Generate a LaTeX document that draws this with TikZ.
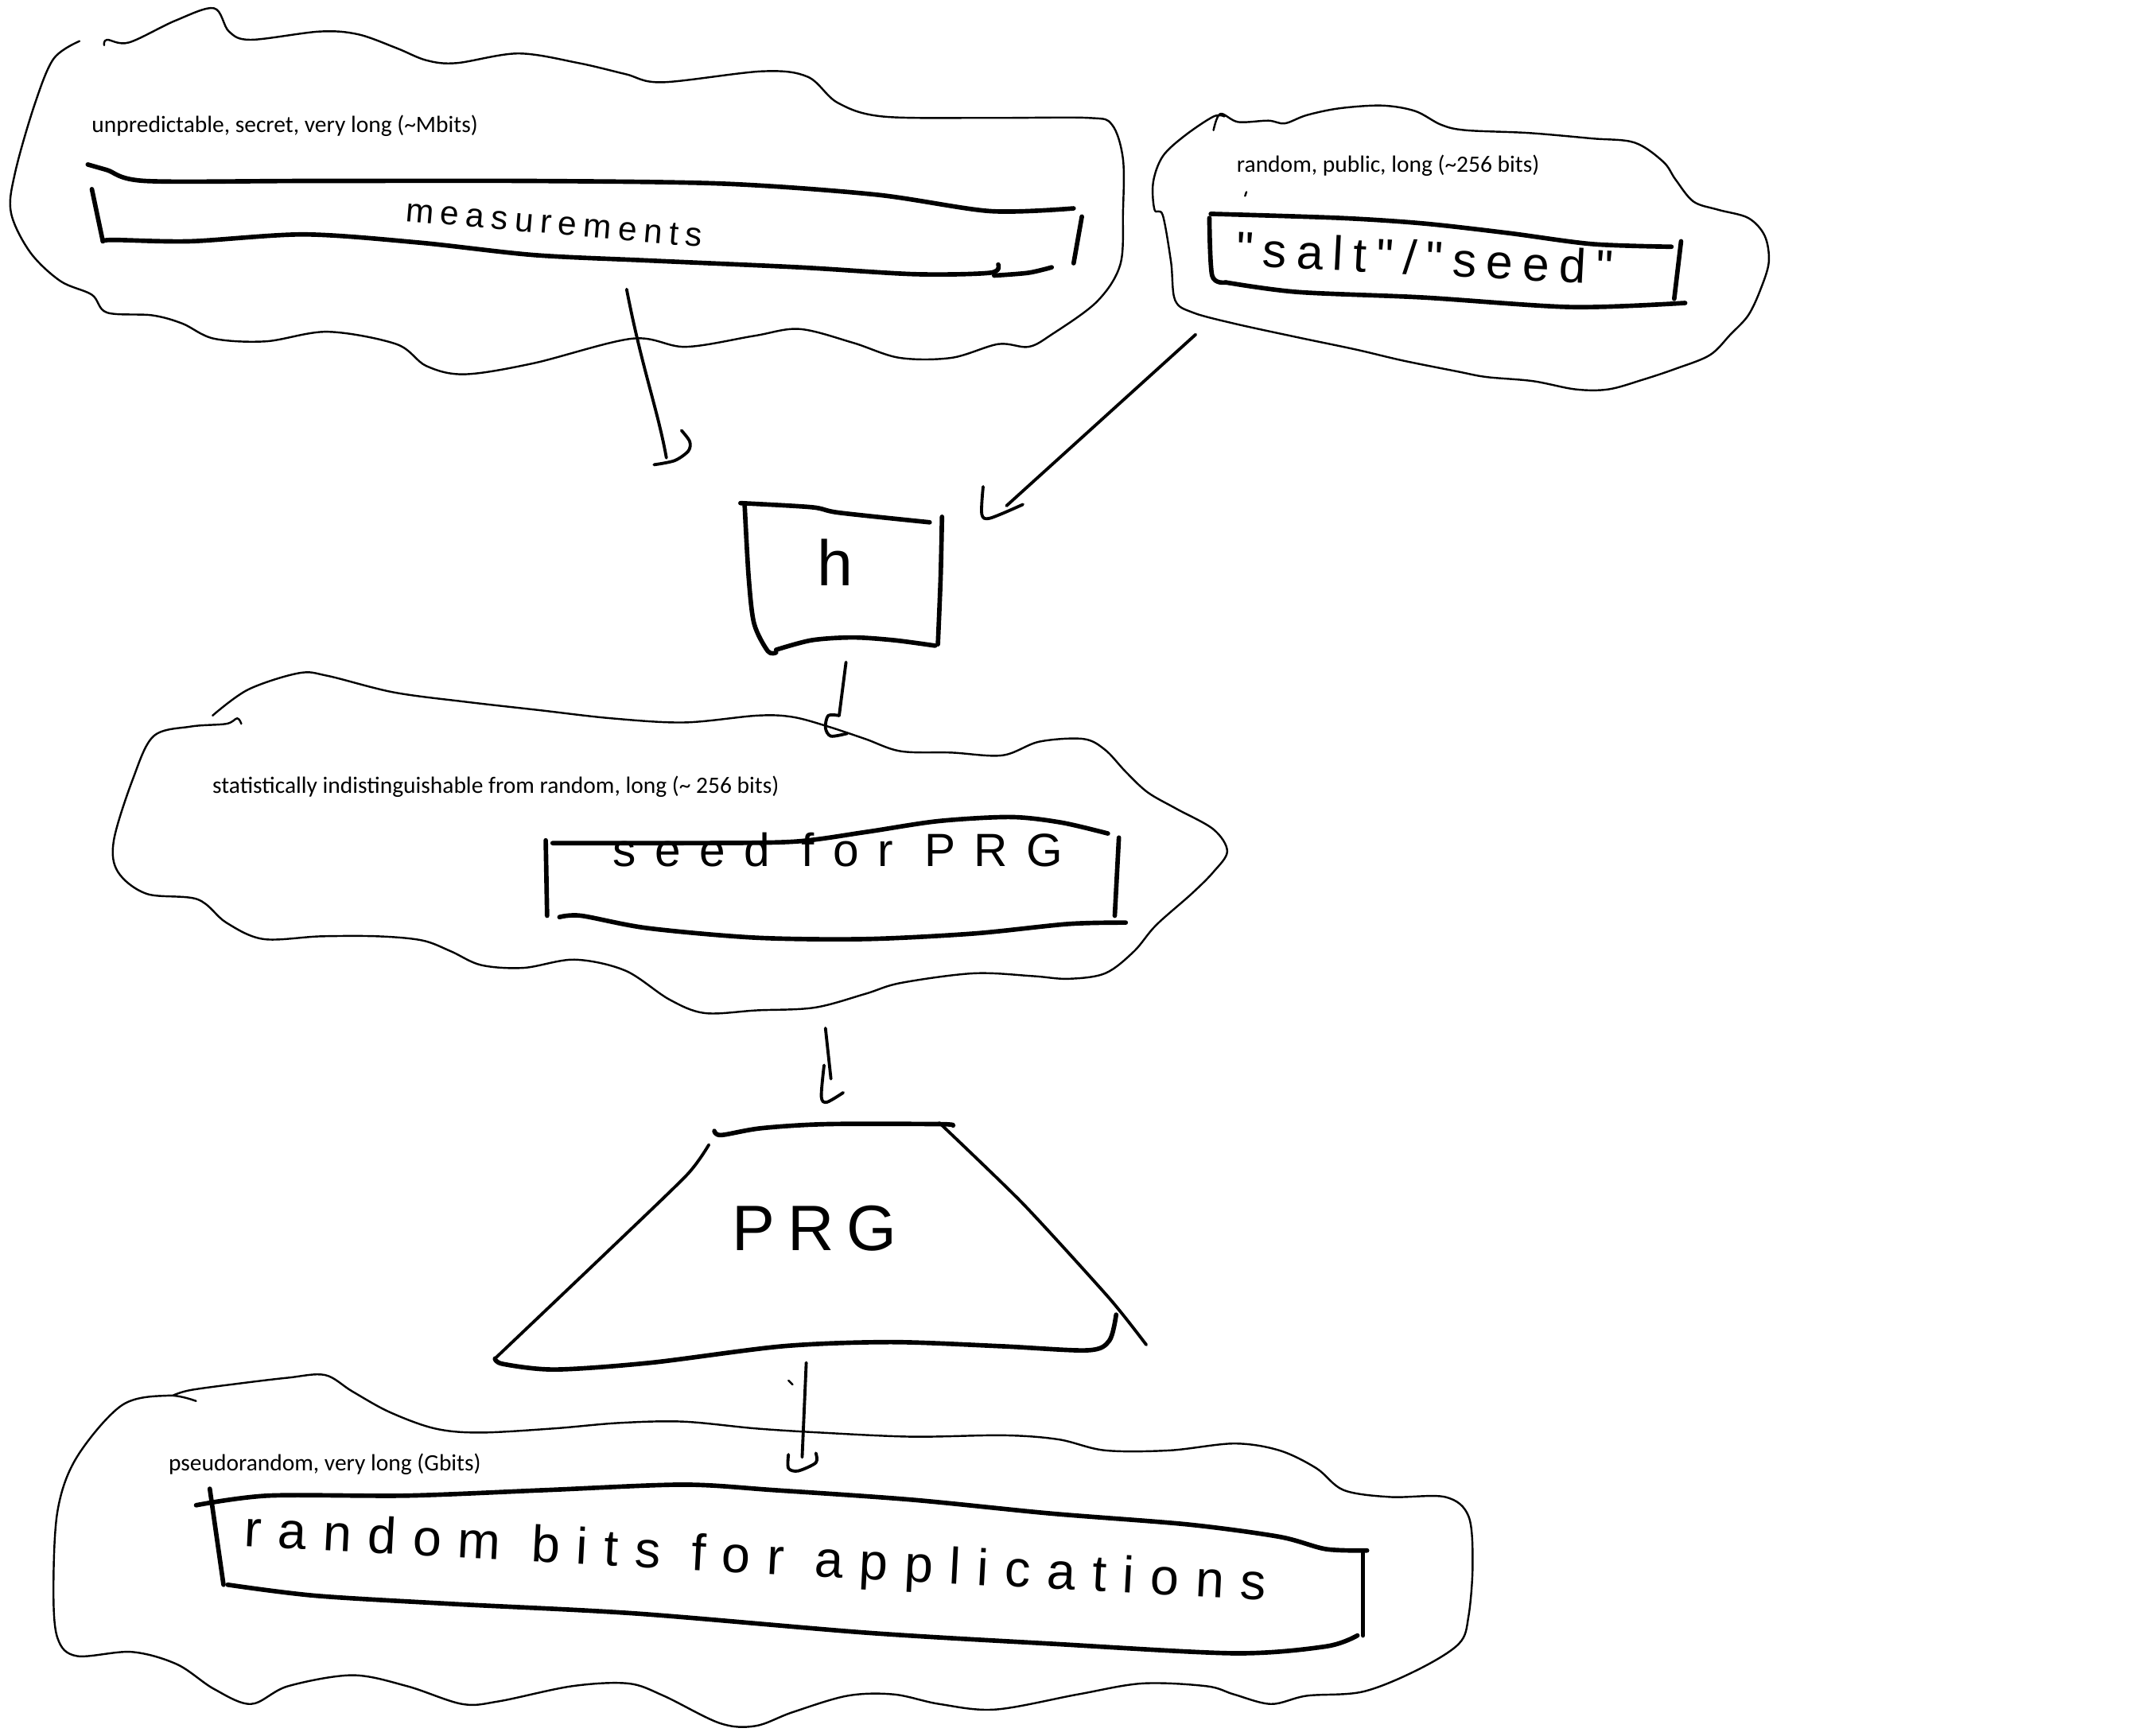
\documentclass[tikz,border=0pt]{standalone}
\usepackage{fontspec}
\setmainfont{Carlito}
\newfontfamily\handfont[LetterSpace=20]{Liberation Sans}
\begin{document}
\begin{tikzpicture}[x=0.3mm, y=-0.3mm, inner sep=0, outer sep=0,
  cloud/.style={line width=1.2pt, line join=round, line cap=round},
  strip/.style={line width=2.8pt, line join=round, line cap=round},
  arrow/.style={line width=1.9pt, line join=round, line cap=round},
  note/.style={anchor=west, font=\fontsize{14.6}{16}\selectfont},
  hand/.style={font=\handfont}]
  \useasboundingbox (0,0) rectangle (1568,1266);

  % measurements cloud
  \draw[cloud] plot[smooth, tension=0.55] coordinates {(58,30) (39,43) (25,77) (11,126) (8,155) (22,184) (44,205) (67,215) (78,228) (111,230) (133,236) (156,247) (194,249) (239,242) (289,251) (311,267) (339,273) (389,265) (461,247) (500,253) (550,245) (583,240) (622,250) (656,261) (694,261) (728,251) (750,253) (767,244) (800,220) (817,193) (819,155) (819,116) (811,91) (794,86) (722,86) (644,85) (611,75) (589,56) (556,52) (483,60) (456,54) (422,46) (378,39) (333,46) (311,44) (289,35) (261,25) (233,23) (183,29) (167,23) (156,6) (128,15) (94,31) (78,29) (76,33)};
  \node[note] (meas-note) at (67,92) {unpredictable, secret, very long (\textasciitilde Mbits)};
  \draw[strip] plot[smooth, tension=0.5] coordinates {(64,120) (78,124) (106,132) (222,132) (389,132) (528,134) (639,142) (722,154) (783,152)};
  \draw[strip] (67,138) -- (75,176);
  \draw[strip] plot[smooth, tension=0.5] coordinates {(75,176) (83,175) (139,176) (222,171) (306,177) (389,186) (472,190) (583,195) (667,200) (722,199) (728,193)};
  \draw[strip] plot[smooth] coordinates {(725,201) (750,199) (767,195)};
  \draw[strip] (789,158) -- (783,192);
  \node[hand, rotate=-5, font=\handfont\fontsize{21}{23}\selectfont] (meas) at (404,163) {measurements};

  % salt cloud
  \draw[cloud] plot[smooth, tension=0.55] coordinates {(885,95) (890,83) (903,89) (925,88) (937,90) (953,84) (977,79) (1008,77) (1032,81) (1051,91) (1069,95) (1115,97) (1161,101) (1192,104) (1213,118) (1222,131) (1235,147) (1253,153) (1275,159) (1287,172) (1290,191) (1284,211) (1275,230) (1262,244) (1247,259) (1222,269) (1198,277) (1173,284) (1149,284) (1118,278) (1084,275) (1063,271) (1023,263) (989,255) (946,246) (900,236) (870,228) (857,219) (854,191) (848,157) (842,153) (841,133) (848,114) (864,99) (885,85) (893,85)};
  \node[note] (salt-note) at (902,121) {random, public, long (\textasciitilde 256 bits)};
  \draw[cloud] (909,140) -- (908,143);
  \draw[strip] plot[smooth, tension=0.5] coordinates {(883,156) (977,159) (1038,163) (1100,170) (1161,178) (1219,180)};
  \draw[strip] plot[smooth] coordinates {(882,159) (884,201) (894,206)};
  \draw[strip] plot[smooth, tension=0.5] coordinates {(894,206) (946,213) (1038,217) (1146,224) (1229,221)};
  \draw[strip] (1226,176) -- (1221,218);
  \node[hand, rotate=-3, font=\handfont\fontsize{30}{32}\selectfont] (salt) at (1039,188) {"salt"/"seed"};

  % h box
  \draw[strip] plot[smooth, tension=0.5] coordinates {(540,367) (592,370) (612,374) (678,381)};
  \draw[strip] plot[smooth, tension=0.5] coordinates {(543,367) (546,421) (550,455) (560,475) (566,476)};
  \draw[strip] plot[smooth, tension=0.5] coordinates {(566,474) (592,467) (622,465) (652,467) (682,471)};
  \draw[strip] plot[smooth] coordinates {(687,377) (686,421) (684,470)};
  \node[hand, font=\handfont\fontsize{40}{42}\selectfont] (h) at (609,410) {h};

  % seed cloud
  \draw[cloud] plot[smooth, tension=0.55] coordinates {(155,522) (181,503) (218,491) (239,493) (287,505) (340,512) (393,518) (446,524) (499,527) (552,522) (578,523) (604,530) (631,539) (657,548) (694,549) (731,551) (758,541) (790,539) (806,547) (821,563) (837,578) (858,590) (885,605) (895,621) (885,636) (869,652) (843,675) (827,694) (806,710) (779,714) (753,712) (710,710) (657,717) (631,725) (594,735) (552,737) (514,739) (488,729) (456,708) (419,700) (382,706) (351,704) (329,694) (308,686) (276,683) (234,683) (192,685) (165,673) (144,656) (107,652) (86,636) (83,613) (97,568) (112,537) (139,530) (165,528) (173,524) (176,528)};
  \node[note] (seed-note) at (155,574) {statistically indistinguishable from random, long (\textasciitilde{} 256 bits)};
  \draw[strip] plot[smooth, tension=0.5] coordinates {(403,615) (498,615) (578,614) (631,607) (684,599) (737,596) (774,600) (808,608)};
  \draw[strip] (398,613) -- (399,668);
  \draw[strip] (816,611) -- (813,668);
  \draw[strip] plot[smooth, tension=0.5] coordinates {(408,669) (424,668) (472,677) (551,684) (631,685) (710,681) (779,674) (821,673)};
  \node[hand, font=\handfont\fontsize{29}{31}\selectfont\addfontfeature{LetterSpace=40}] (seed) at (611,620) {seed for PRG};

  % PRG
  \draw[strip] plot[smooth, tension=0.5] coordinates {(521,825) (526,828) (555,823) (603,820) (685,820) (695,821)};
  \draw[arrow] plot[smooth, tension=0.4] coordinates {(685,819) (746,878) (809,947) (836,981)};
  \draw[arrow] plot[smooth, tension=0.4] coordinates {(517,835) (501,857) (443,913) (361,991)};
  \draw[strip] plot[smooth, tension=0.5] coordinates {(361,991) (367,995) (405,999) (475,994) (571,982) (650,979) (730,982) (793,985) (809,978) (814,959)};
  \node[hand, font=\handfont\fontsize{40}{42}\selectfont] (prg) at (594,896) {PRG};

  % output cloud
  \draw[cloud] plot[smooth, tension=0.55] coordinates {(126,1018) (139,1014) (176,1009) (210,1005) (237,1003) (257,1015) (284,1030) (317,1042) (350,1045) (404,1042) (451,1038) (498,1037) (551,1042) (598,1045) (665,1048) (732,1047) (772,1050) (806,1058) (853,1058) (900,1053) (933,1058) (960,1071) (980,1087) (1014,1092) (1054,1092) (1071,1106) (1074,1141) (1071,1179) (1064,1199) (1034,1218) (994,1234) (953,1237) (927,1243) (900,1236) (880,1230) (833,1228) (786,1236) (726,1247) (685,1243) (652,1236) (618,1237) (578,1249) (551,1259) (525,1257) (484,1237) (458,1228) (417,1230) (364,1241) (337,1243) (297,1230) (257,1222) (210,1230) (183,1243) (156,1232) (129,1214) (96,1205) (56,1208) (42,1195) (39,1160) (42,1102) (56,1063) (89,1025) (123,1018) (143,1022)};
  \node[note] (out-note) at (123,1068) {pseudorandom, very long (Gbits)};
  \draw[strip] plot[smooth, tension=0.5] coordinates {(143,1098) (196,1091) (297,1091) (397,1087) (498,1083) (565,1087) (665,1094) (766,1104) (866,1112) (933,1121) (967,1130) (997,1131)};
  \draw[strip] (153,1086) -- (163,1156);
  \draw[strip] (994,1133) -- (994,1193);
  \draw[strip] plot[smooth, tension=0.5] coordinates {(166,1156) (230,1164) (330,1170) (464,1177) (632,1191) (766,1199) (900,1206) (967,1201) (990,1193)};
  \node[hand, rotate=-3, font=\handfont\fontsize{32}{34}\selectfont\addfontfeature{LetterSpace=32}] (out) at (551,1138) {random bits for applications};

  % connectors
  \coordinate (meas-tail) at (457,211);
  \coordinate (meas-head) at (486,334);
  \coordinate (salt-tail) at (872,244);
  \coordinate (salt-head) at (734,369);
  \coordinate (h-tail) at (617,483);
  \coordinate (h-head) at (612,522);
  \coordinate (seed-tail) at (602,750);
  \coordinate (seed-head) at (606,787);
  \coordinate (prg-tail) at (588,994);
  \coordinate (prg-head) at (585,1063);

  \draw[arrow] (meas-tail) .. controls (468,268) and (480,300) .. (meas-head);
  \draw[arrow] plot[smooth] coordinates {(477,339) (492,336) (502,329) (503,322) (497,314)};

  \draw[arrow] (salt-tail) -- (salt-head);
  \draw[arrow] plot[smooth] coordinates {(717,355) (716,375) (722,378) (746,368)};

  \draw[arrow] (h-tail) -- (h-head);
  \draw[arrow] plot[smooth] coordinates {(612,522) (604,522) (602,531) (606,537) (618,535)};

  \draw[arrow] (seed-tail) -- (seed-head);
  \draw[arrow] plot[smooth] coordinates {(601,777) (599,800) (603,804) (615,797)};

  \draw[arrow] (prg-tail) -- (prg-head);
  \draw[arrow] plot[smooth] coordinates {(575,1061) (575,1071) (582,1073) (595,1067) (595,1060)};
  \draw[cloud] (575,1007) -- (578,1010);
\end{tikzpicture}
\end{document}
